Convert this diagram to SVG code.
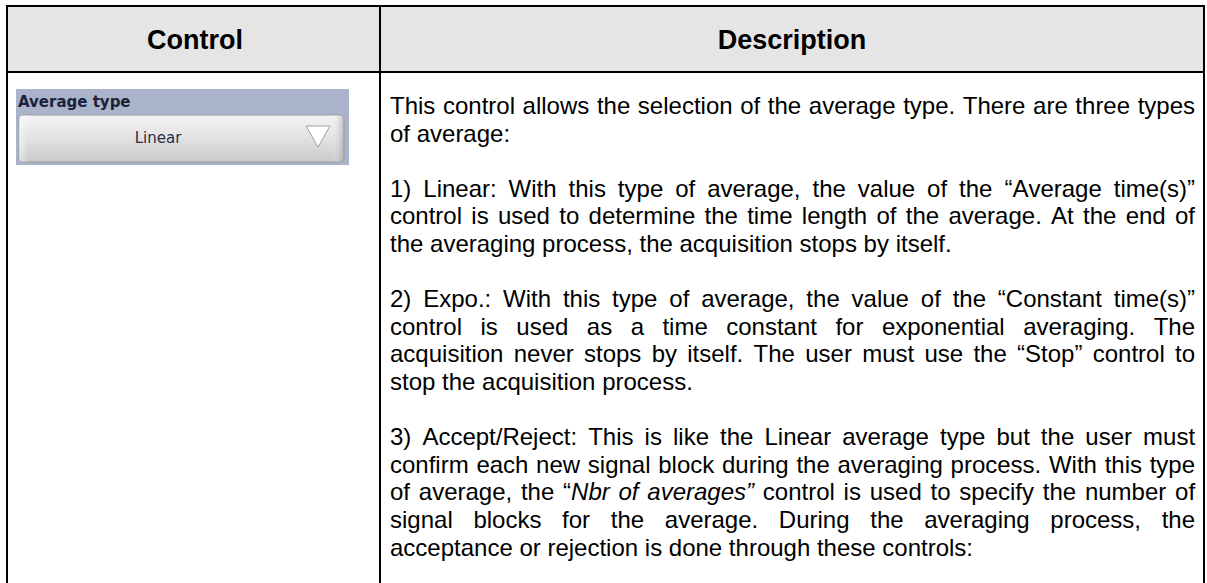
<svg xmlns="http://www.w3.org/2000/svg" width="1207" height="583" viewBox="0 0 1207 583">
<defs>
<style>
.hdr{font-family:"Liberation Sans",Arial,sans-serif;font-weight:bold;font-size:27px;fill:#000;text-anchor:middle}
.t{font-family:"Liberation Sans",Arial,sans-serif;font-size:24px;fill:#000;font-kerning:none;font-variant-ligatures:none}
.it{font-style:italic}
.grid{stroke:#000;stroke-width:2;fill:none}
.wlabel{font-family:"DejaVu Sans","Liberation Sans",sans-serif;font-weight:bold;font-size:15px;fill:#1c2138}
.wval{font-family:"DejaVu Sans","Liberation Sans",sans-serif;font-size:15px;fill:#2a2c4a;text-anchor:middle}
</style>
<linearGradient id="btn" x1="0" y1="0" x2="0" y2="1">
<stop offset="0" stop-color="#f4f4f4"/>
<stop offset="0.5" stop-color="#e2e2e2"/>
<stop offset="1" stop-color="#c9c9c9"/>
</linearGradient>
<linearGradient id="btnEdge" x1="0" y1="0" x2="1" y2="0">
<stop offset="0" stop-color="#ffffff" stop-opacity="0.5"/>
<stop offset="0.03" stop-color="#ffffff" stop-opacity="0"/>
<stop offset="0.96" stop-color="#ffffff" stop-opacity="0"/>
<stop offset="1" stop-color="#9a9a9a" stop-opacity="0.6"/>
</linearGradient>
</defs>
<rect width="1207" height="583" fill="#fff"/>
<g id="header-row">
<rect x="7" y="6" width="1197" height="66" fill="#e5e5e5"/>
<text class="hdr" x="195" y="49">Control</text>
<text class="hdr" x="792" y="49">Description</text>
</g>
<g id="table-lines">
<line class="grid" x1="6" y1="6" x2="1205" y2="6"/>
<line class="grid" x1="6" y1="72" x2="1205" y2="72"/>
<line class="grid" x1="7" y1="5" x2="7" y2="583"/>
<line class="grid" x1="380" y1="5" x2="380" y2="583"/>
<line class="grid" x1="1204" y1="5" x2="1204" y2="583"/>
</g>
<g id="average-type-control">
<rect x="16" y="89" width="333" height="76" fill="#a9b3ca"/>
<text class="wlabel" x="18" y="107">Average type</text>
<rect x="19" y="115" width="325" height="47" rx="4" fill="url(#btn)" stroke="#9a9a9a" stroke-width="1"/>
<rect x="19" y="115" width="325" height="47" rx="4" fill="url(#btnEdge)"/>
<text class="wval" x="158" y="143">Linear</text>
<polygon points="306,126 330,126 318,147" fill="#ffffff" stroke="#a0a0a0" stroke-width="1"/>
</g>
<g id="description">
<text class="t" x="390" y="114" style="word-spacing:0.94px">This control allows the selection of the average type. There are three types</text>
<text class="t" x="390" y="141.6">of average:</text>
<text class="t" x="390" y="196.8" style="word-spacing:5.28px">1) Linear: With this type of average, the value of the “Average time(s)”</text>
<text class="t" x="390" y="224.4" style="word-spacing:2.61px">control is used to determine the time length of the average. At the end of</text>
<text class="t" x="390" y="252">the averaging process, the acquisition stops by itself.</text>
<text class="t" x="390" y="307.2" style="word-spacing:5.17px">2) Expo.: With this type of average, the value of the “Constant time(s)”</text>
<text class="t" x="390" y="334.8" style="word-spacing:11.8px">control is used as a time constant for exponential averaging. The</text>
<text class="t" x="390" y="362.4" style="word-spacing:3.61px">acquisition never stops by itself. The user must use the “Stop” control to</text>
<text class="t" x="390" y="390">stop the acquisition process.</text>
<text class="t" x="390" y="445.2" style="word-spacing:4.39px">3) Accept/Reject: This is like the Linear average type but the user must</text>
<text class="t" x="390" y="472.8" style="word-spacing:1.03px">confirm each new signal block during the averaging process. With this type</text>
<text class="t" x="390" y="500.4" style="word-spacing:2.1px">of average, the “<tspan class="it">Nbr of averages”</tspan> control is used to specify the number of</text>
<text class="t" x="390" y="528" style="word-spacing:14px">signal blocks for the average. During the averaging process, the</text>
<text class="t" x="390" y="555.6">acceptance or rejection is done through these controls:</text>
</g>
</svg>
